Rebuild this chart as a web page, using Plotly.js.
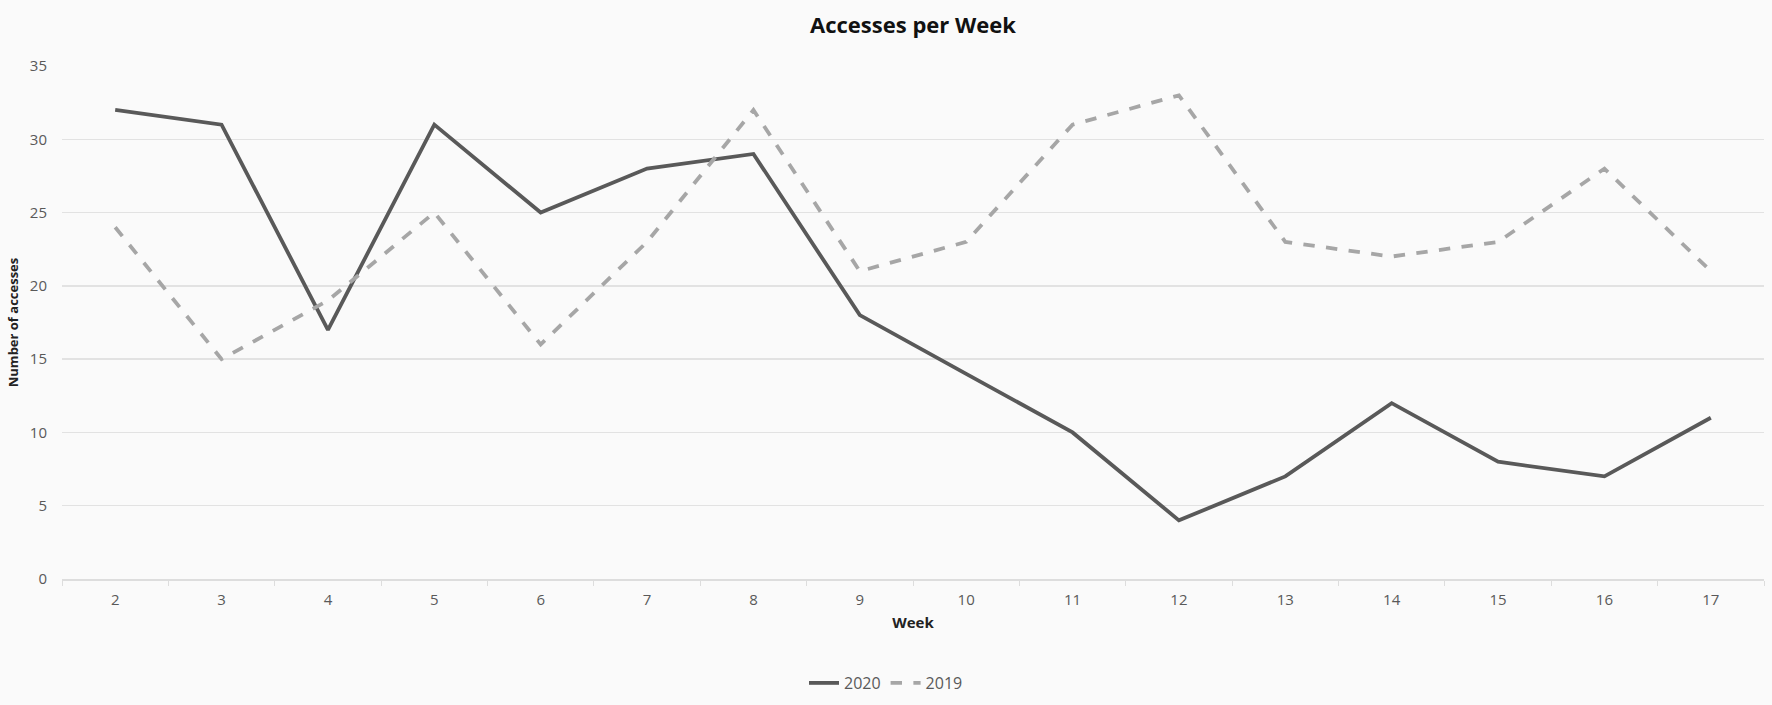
<!DOCTYPE html>
<html>
<head>
<meta charset="utf-8">
<script src="https://cdn.plot.ly/plotly-3.0.1.min.js"></script>
<style>
  html, body { margin: 0; padding: 0; background: #fafafa; }
  #chart { width: 1772px; height: 705px; }
</style>
</head>
<body>
<div id="chart"></div>
<script>
const weeks = ["2", "3", "4", "5", "6", "7", "8", "9", "10", "11", "12", "13", "14", "15", "16", "17"];
const accesses2020 = [32, 31, 17, 31, 25, 28, 29, 18, 14, 10, 4, 7, 12, 8, 7, 11];
const accesses2019 = [24, 15, 19, 25, 16, 23, 32, 21, 23, 31, 33, 23, 22, 23, 28, 21];
const yTicks = [0, 5, 10, 15, 20, 25, 30, 35];

const fontFamily = "'Open Sans', 'DejaVu Sans', sans-serif";
const tickColor = "#595959";

const traces = [
    {
        x: weeks,
        y: accesses2020,
        name: "2020",
        type: "scatter",
        mode: "lines",
        line: { color: "#595959", width: 3.8 },
    },
    {
        x: weeks,
        y: accesses2019,
        name: "2019",
        type: "scatter",
        mode: "lines",
        line: { color: "#a6a6a6", width: 3.8, dash: "dash" },
    },
];

const layout = {
    width: 1772,
    height: 705,
    paper_bgcolor: "#fafafa",
    plot_bgcolor: "#fafafa",
    font: { family: fontFamily, color: tickColor, size: 15 },
    title: {
        text: "<b>Accesses per Week</b>",
        font: { family: fontFamily, size: 22, color: "#111111" },
        x: 0.5,
        xanchor: "center",
        xref: "paper",
        y: 1 - 25 / 705,
        yanchor: "middle",
        yref: "container",
    },
    margin: { l: 62, r: 8, t: 66, b: 126 },
    showlegend: true,
    legend: {
        orientation: "h",
        xref: "container",
        yref: "container",
        x: 0.5,
        xanchor: "center",
        y: 1 - 683 / 705,
        yanchor: "middle",
        font: { family: fontFamily, size: 16, color: tickColor },
        bgcolor: "rgba(0,0,0,0)",
    },
    xaxis: {
        type: "category",
        range: [-0.5, weeks.length - 0.5],
        title: {
            text: "<b>Week</b>",
            font: { family: fontFamily, size: 15, color: "#222222" },
            standoff: 10,
        },
        showgrid: false,
        zeroline: false,
        showline: true,
        linecolor: "#dddddd",
        linewidth: 1.5,
        ticks: "outside",
        tickson: "boundaries",
        ticklen: 5,
        tickcolor: "#dddddd",
        ticklabelstandoff: 6,
        tickfont: { family: fontFamily, size: 15, color: tickColor },
        fixedrange: true,
    },
    yaxis: {
        title: {
            text: "<b>Number of accesses</b>",
            font: { family: fontFamily, size: 13, color: "#222222" },
            standoff: 8,
        },
        range: [0, 35],
        tickvals: yTicks,
        showgrid: true,
        gridcolor: "#e2e2e2",
        gridwidth: 1.5,
        zeroline: false,
        showline: false,
        ticks: "",
        ticklabelstandoff: 14,
        tickfont: { family: fontFamily, size: 15, color: tickColor },
        fixedrange: true,
    },
};

Plotly.newPlot("chart", traces, layout, { displayModeBar: false, staticPlot: true });
</script>
</body>
</html>
